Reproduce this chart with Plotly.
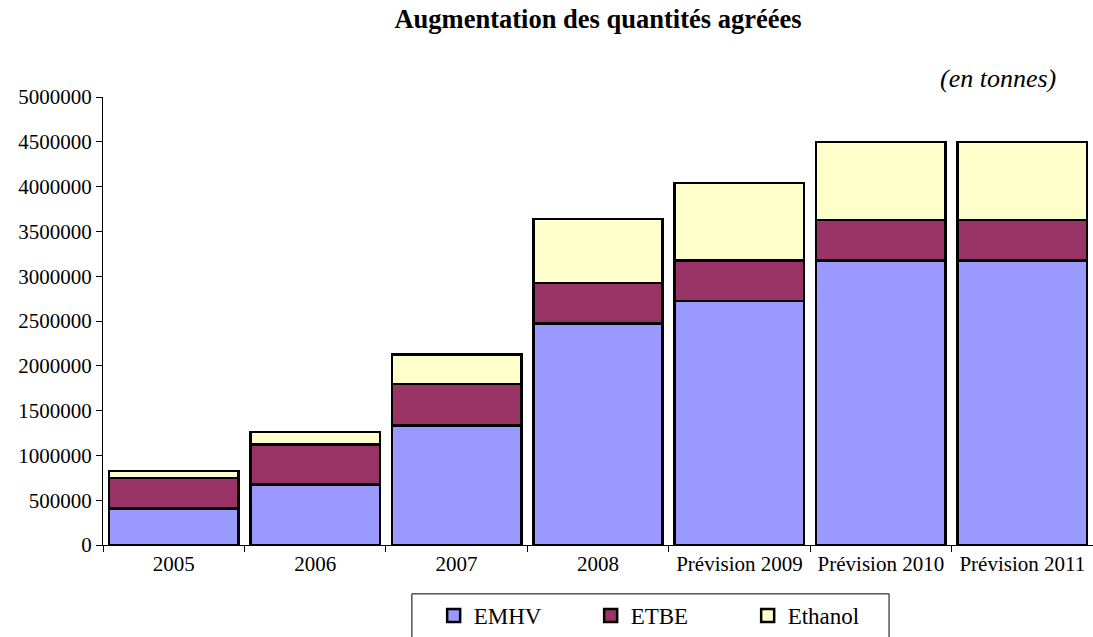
import plotly.graph_objects as go

# Quantités agréées par année (en tonnes)
annees = ['2005', '2006', '2007', '2008', 'Prévision 2009', 'Prévision 2010', 'Prévision 2011']
emhv = [410000, 675000, 1335000, 2470000, 2725000, 3175000, 3175000]
etbe = [340000, 445000, 460000, 455000, 450000, 450000, 450000]
ethanol = [75000, 140000, 330000, 715000, 865000, 875000, 875000]

couleurs = {'EMHV': '#9999FF', 'ETBE': '#993366', 'Ethanol': '#FFFFCC'}
police = 'Liberation Serif, Times New Roman, serif'

fig = go.Figure()
for nom, valeurs in [('EMHV', emhv), ('ETBE', etbe), ('Ethanol', ethanol)]:
    fig.add_trace(go.Bar(
        x=annees,
        y=valeurs,
        name=nom,
        showlegend=False,
        marker=dict(color=couleurs[nom], line=dict(color='black', width=2.5)),
    ))
    # carré de légende avec bordure noire (style Excel)
    fig.add_trace(go.Scatter(
        x=[None], y=[None],
        mode='markers',
        name=nom,
        marker=dict(symbol='square', size=13, color=couleurs[nom],
                    line=dict(color='black', width=2.5)),
    ))

fig.update_layout(
    barmode='stack',
    bargap=0.085,
    width=1093,
    height=637,
    paper_bgcolor='white',
    plot_bgcolor='white',
    margin=dict(l=103, r=0, t=97, b=90),
    font=dict(family=police, size=21, color='black'),
    title=dict(
        text='<b>Augmentation des quantités agréées</b>',
        x=0.5, xref='paper', y=0.970, yanchor='middle',
        font=dict(family=police, size=26.5),
    ),
    showlegend=True,
    legend=dict(
        orientation='h',
        x=0.334, xanchor='left',
        y=-0.11, yanchor='top',
        borderwidth=0,
        bgcolor='rgba(0,0,0,0)',
        font=dict(family=police, size=23),
        entrywidth=112,
        traceorder='normal',
    ),
    xaxis=dict(
        showline=True, linecolor='black', linewidth=1,
        ticks='outside', ticklen=6, tickcolor='black',
        tickson='boundaries',
        showgrid=False,
        automargin=False,
    ),
    yaxis=dict(
        range=[0, 5000000],
        dtick=500000,
        tickformat='d',
        showline=True, linecolor='black', linewidth=1,
        ticks='outside', ticklen=6, tickcolor='black',
        showgrid=False, zeroline=False,
        automargin=False,
    ),
)

# cadre de la légende (coupé en bas comme dans l'original)
fig.add_shape(
    type='rect', xref='paper', yref='paper',
    x0=0.312, x1=0.794, y0=-0.109, y1=-0.35,
    line=dict(color='black', width=1),
    fillcolor='rgba(0,0,0,0)',
)

fig.add_annotation(
    text='<i>(en tonnes)</i>',
    xref='paper', yref='paper',
    x=0.9646, xanchor='right',
    y=1.042, yanchor='middle',
    showarrow=False,
    font=dict(family=police, size=26),
)

# supprime la marge par défaut du body pour que la figure tienne dans la fenêtre
fig.write_html('out.html', config={'displayModeBar': False},
               post_script="document.body.style.margin='0';")
